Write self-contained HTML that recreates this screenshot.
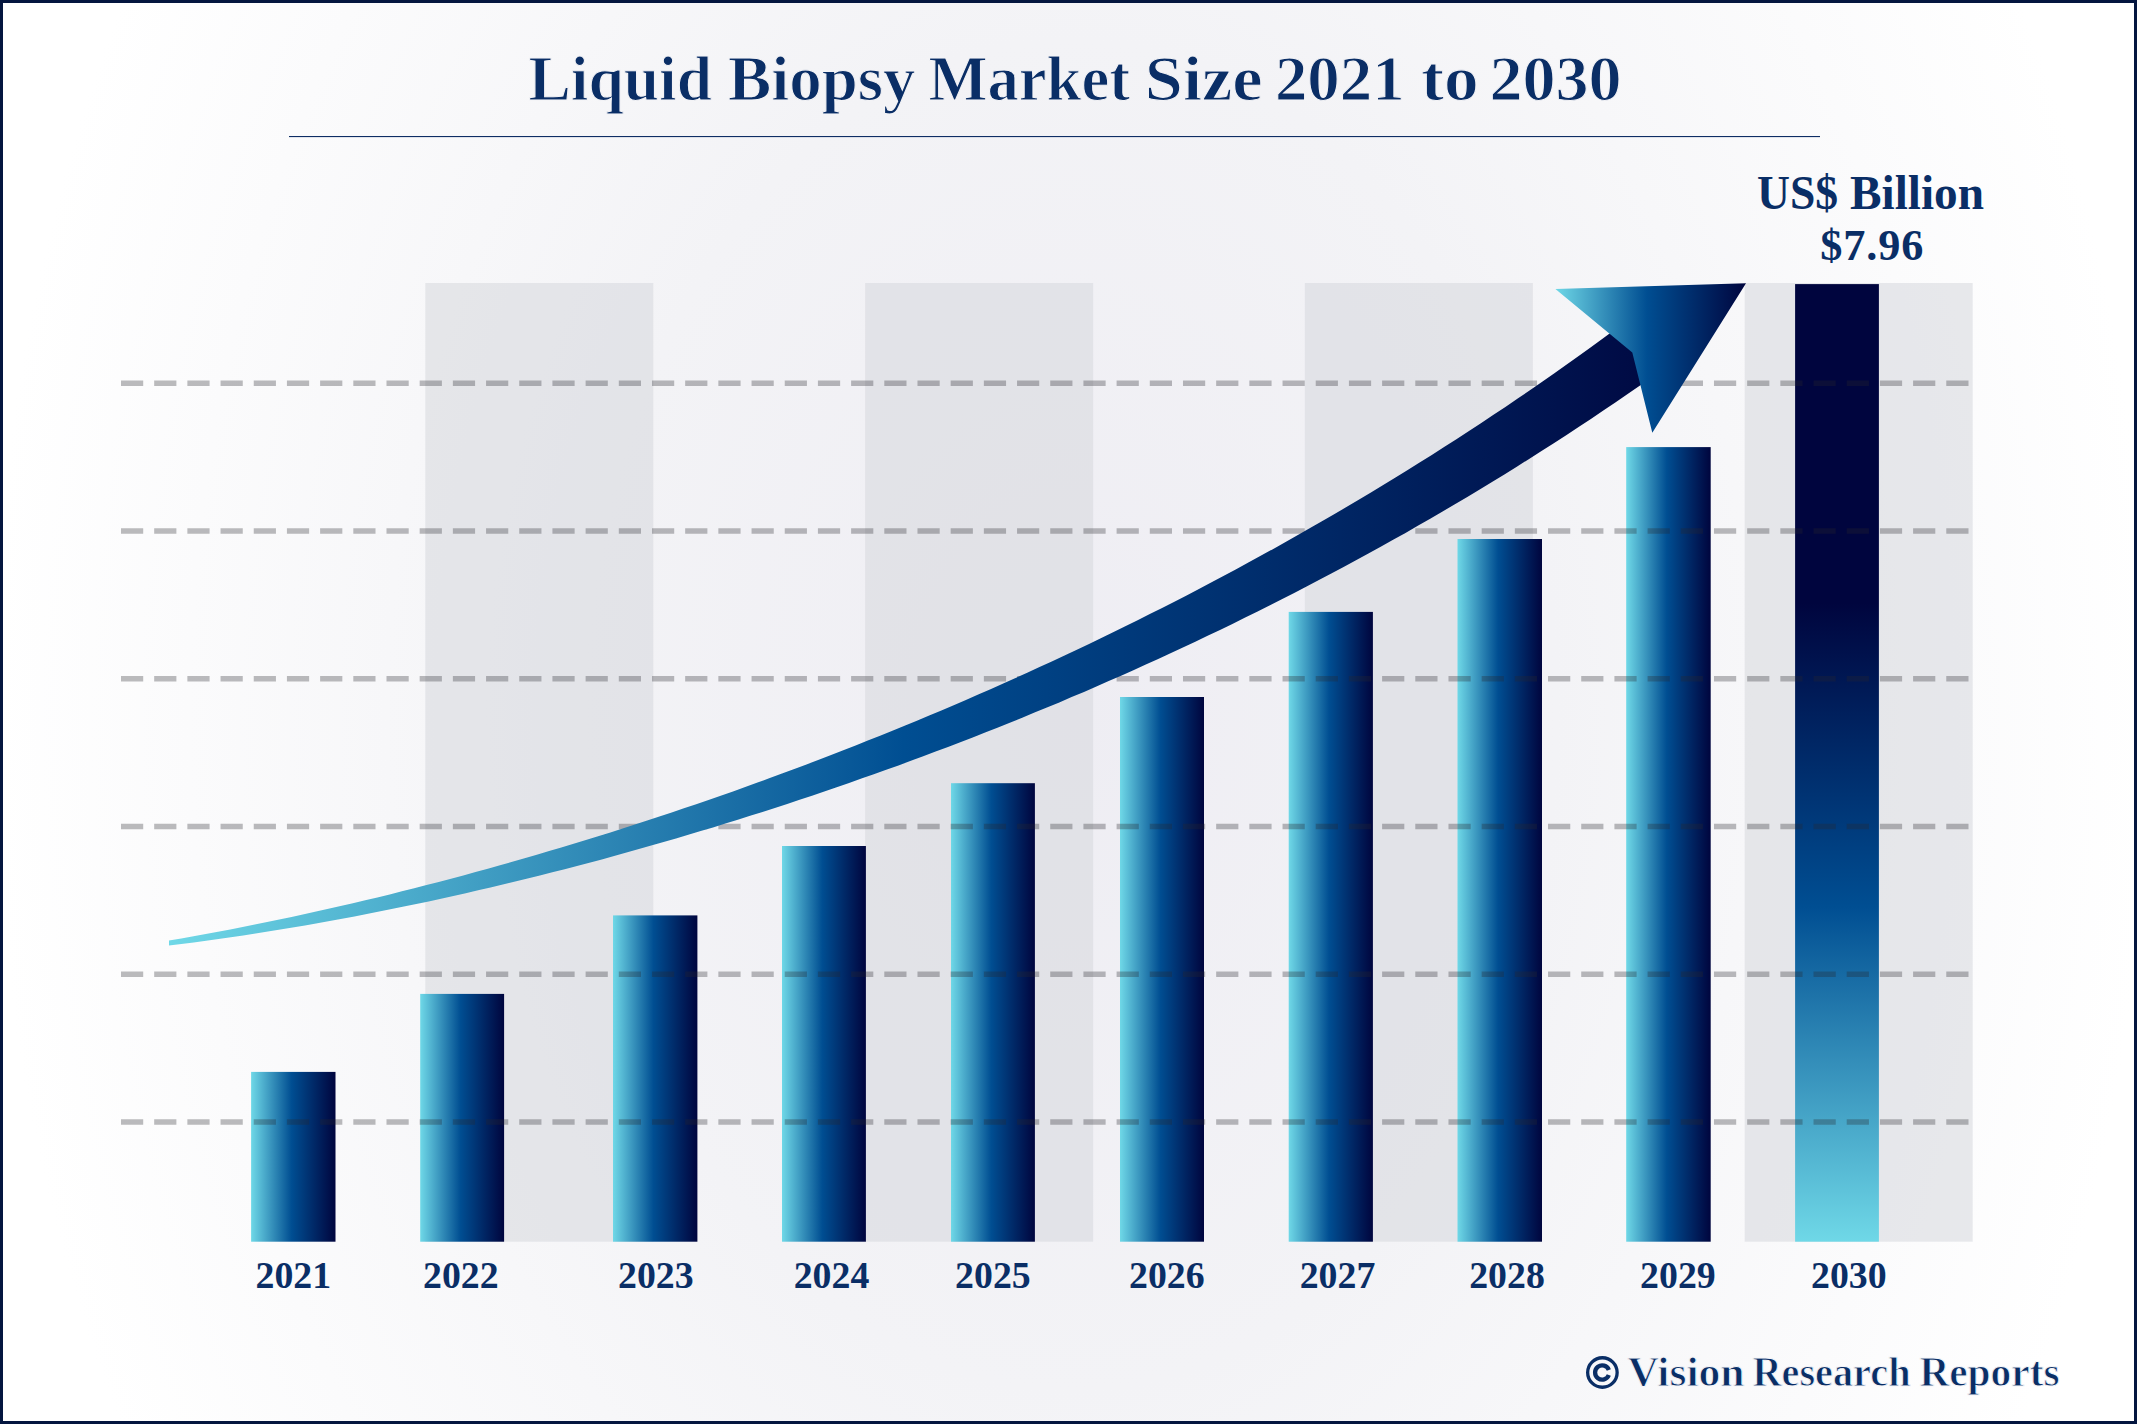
<!DOCTYPE html>
<html><head><meta charset="utf-8"><style>
html,body{margin:0;padding:0;width:2137px;height:1424px;background:#fff}
.frame{position:absolute;left:0;top:0;width:2137px;height:1424px;box-sizing:border-box;border:3px solid #04163f;
background:radial-gradient(ellipse 1080px 1500px at 1068px 712px,#eeedf3 0%,#f3f3f6 45%,#ffffff 100%)}
</style></head><body><div class="frame"></div>
<svg width="2137" height="1424" viewBox="0 0 2137 1424" style="position:absolute;left:0;top:0">
<defs>
<linearGradient id="gh" x1="0" y1="0" x2="1" y2="0"><stop offset="0" stop-color="#6fd8e7"/><stop offset="0.48" stop-color="#004e92"/><stop offset="1" stop-color="#00053e"/></linearGradient>
<linearGradient id="gv" x1="0" y1="1" x2="0" y2="0"><stop offset="0" stop-color="#6fd8e7"/><stop offset="0.35" stop-color="#004e92"/><stop offset="0.667" stop-color="#00053e"/><stop offset="1" stop-color="#00053e"/></linearGradient>
<linearGradient id="ga" gradientUnits="userSpaceOnUse" x1="169" y1="0" x2="1700" y2="0"><stop offset="0" stop-color="#6fd8e7"/><stop offset="0.48" stop-color="#004e92"/><stop offset="1" stop-color="#00053e"/></linearGradient>
<linearGradient id="ghd" gradientUnits="userSpaceOnUse" x1="1555.4" y1="0" x2="1746" y2="0"><stop offset="0" stop-color="#6fd8e7"/><stop offset="0.48" stop-color="#004e92"/><stop offset="1" stop-color="#00053e"/></linearGradient>
</defs>
<rect x="425.3" y="283" width="228" height="958.7" fill="rgba(215,217,221,0.57)"/>
<rect x="865.1" y="283" width="228" height="958.7" fill="rgba(215,217,221,0.57)"/>
<rect x="1304.9" y="283" width="228" height="958.7" fill="rgba(215,217,221,0.57)"/>
<rect x="1744.7" y="283" width="228" height="958.7" fill="rgba(215,217,221,0.57)"/>
<rect x="251.1" y="1071.9" width="84.4" height="169.8" fill="url(#gh)"/>
<rect x="420.2" y="993.9" width="83.9" height="247.8" fill="url(#gh)"/>
<rect x="613.0" y="915.4" width="84.4" height="326.3" fill="url(#gh)"/>
<rect x="782.0" y="846.0" width="83.9" height="395.7" fill="url(#gh)"/>
<rect x="951.0" y="783.2" width="83.9" height="458.5" fill="url(#gh)"/>
<rect x="1120.0" y="697.0" width="84.0" height="544.7" fill="url(#gh)"/>
<rect x="1288.7" y="611.9" width="84.2" height="629.8" fill="url(#gh)"/>
<rect x="1457.5" y="539.0" width="84.5" height="702.7" fill="url(#gh)"/>
<rect x="1626.2" y="447.1" width="84.5" height="794.6" fill="url(#gh)"/>
<rect x="1795.1" y="284.1" width="83.8" height="957.6" fill="url(#gv)"/>
<line x1="121" y1="383.2" x2="1969" y2="383.2" stroke="rgba(40,40,45,0.31)" stroke-width="5.6" stroke-dasharray="22.2 10.987"/>
<line x1="121" y1="531.0" x2="1969" y2="531.0" stroke="rgba(40,40,45,0.31)" stroke-width="5.6" stroke-dasharray="22.2 10.987"/>
<line x1="121" y1="678.7" x2="1969" y2="678.7" stroke="rgba(40,40,45,0.31)" stroke-width="5.6" stroke-dasharray="22.2 10.987"/>
<line x1="121" y1="826.5" x2="1969" y2="826.5" stroke="rgba(40,40,45,0.31)" stroke-width="5.6" stroke-dasharray="22.2 10.987"/>
<line x1="121" y1="974.2" x2="1969" y2="974.2" stroke="rgba(40,40,45,0.31)" stroke-width="5.6" stroke-dasharray="22.2 10.987"/>
<line x1="121" y1="1122.0" x2="1969" y2="1122.0" stroke="rgba(40,40,45,0.31)" stroke-width="5.6" stroke-dasharray="22.2 10.987"/>
<path d="M169.0,940.5 L181.3,938.4 L193.5,936.2 L205.8,934.0 L218.0,931.7 L230.3,929.4 L242.6,927.0 L254.8,924.5 L267.1,922.0 L279.3,919.5 L291.6,916.9 L303.9,914.3 L316.1,911.6 L328.4,908.8 L340.6,906.0 L352.9,903.2 L365.2,900.3 L377.4,897.4 L389.7,894.4 L401.9,891.3 L414.2,888.2 L426.5,885.1 L438.7,881.9 L451.0,878.7 L463.3,875.4 L475.5,872.1 L487.8,868.7 L500.0,865.3 L512.3,861.8 L524.6,858.3 L536.8,854.7 L549.1,851.1 L561.3,847.5 L573.6,843.8 L585.9,840.0 L598.1,836.2 L610.4,832.4 L622.6,828.5 L634.9,824.6 L647.2,820.6 L659.4,816.5 L671.7,812.5 L683.9,808.3 L696.2,804.2 L708.5,799.9 L720.7,795.7 L733.0,791.4 L745.2,787.0 L757.5,782.6 L769.8,778.1 L782.0,773.6 L794.3,769.0 L806.5,764.4 L818.8,759.8 L831.1,755.1 L843.3,750.3 L855.6,745.5 L867.8,740.6 L880.1,735.7 L892.4,730.8 L904.6,725.8 L916.9,720.7 L929.2,715.6 L941.4,710.4 L953.7,705.2 L965.9,699.9 L978.2,694.6 L990.5,689.2 L1002.7,683.8 L1015.0,678.3 L1027.2,672.7 L1039.5,667.1 L1051.8,661.5 L1064.0,655.8 L1076.3,650.0 L1088.5,644.2 L1100.8,638.3 L1113.1,632.3 L1125.3,626.3 L1137.6,620.3 L1149.8,614.1 L1162.1,607.9 L1174.4,601.7 L1186.6,595.4 L1198.9,589.0 L1211.1,582.6 L1223.4,576.0 L1235.7,569.5 L1247.9,562.8 L1260.2,556.1 L1272.4,549.4 L1284.7,542.5 L1297.0,535.6 L1309.2,528.6 L1321.5,521.6 L1333.7,514.5 L1346.0,507.3 L1358.3,500.0 L1370.5,492.7 L1382.8,485.3 L1395.1,477.8 L1407.3,470.2 L1419.6,462.6 L1431.8,454.9 L1444.1,447.1 L1456.4,439.2 L1468.6,431.2 L1480.9,423.2 L1493.1,415.1 L1505.4,406.9 L1517.7,398.6 L1529.9,390.2 L1542.2,381.7 L1554.4,373.2 L1566.7,364.5 L1579.0,355.8 L1591.2,347.0 L1603.5,338.1 L1615.7,329.1 L1628.0,320.0 L1640.0,318.0 L1647.0,352.0 L1645.0,382.0 L1640.4,385.2 L1628.0,393.8 L1615.7,402.2 L1603.3,410.6 L1590.9,418.9 L1578.6,427.1 L1566.2,435.2 L1553.8,443.2 L1541.5,451.1 L1529.1,458.9 L1516.8,466.7 L1504.4,474.4 L1492.0,482.0 L1479.7,489.5 L1467.3,496.9 L1454.9,504.2 L1442.6,511.5 L1430.2,518.7 L1417.8,525.8 L1405.5,532.9 L1393.1,539.8 L1380.7,546.7 L1368.4,553.5 L1356.0,560.3 L1343.6,566.9 L1331.3,573.5 L1318.9,580.1 L1306.6,586.5 L1294.2,592.9 L1281.8,599.3 L1269.5,605.5 L1257.1,611.7 L1244.7,617.8 L1232.4,623.9 L1220.0,629.9 L1207.6,635.8 L1195.3,641.7 L1182.9,647.5 L1170.5,653.3 L1158.2,659.0 L1145.8,664.6 L1133.4,670.2 L1121.1,675.7 L1108.7,681.1 L1096.4,686.5 L1084.0,691.9 L1071.6,697.1 L1059.3,702.4 L1046.9,707.5 L1034.5,712.6 L1022.2,717.7 L1009.8,722.7 L997.4,727.7 L985.1,732.5 L972.7,737.4 L960.3,742.2 L948.0,746.9 L935.6,751.6 L923.2,756.2 L910.9,760.8 L898.5,765.4 L886.2,769.8 L873.8,774.3 L861.4,778.6 L849.1,783.0 L836.7,787.3 L824.3,791.5 L812.0,795.7 L799.6,799.8 L787.2,803.9 L774.9,807.9 L762.5,811.9 L750.1,815.8 L737.8,819.7 L725.4,823.6 L713.0,827.4 L700.7,831.1 L688.3,834.8 L676.0,838.5 L663.6,842.1 L651.2,845.6 L638.9,849.1 L626.5,852.6 L614.1,856.0 L601.8,859.4 L589.4,862.7 L577.0,865.9 L564.7,869.2 L552.3,872.3 L539.9,875.5 L527.6,878.5 L515.2,881.6 L502.8,884.5 L490.5,887.5 L478.1,890.3 L465.8,893.2 L453.4,895.9 L441.0,898.7 L428.7,901.4 L416.3,904.0 L403.9,906.6 L391.6,909.1 L379.2,911.6 L366.8,914.0 L354.5,916.4 L342.1,918.7 L329.7,921.0 L317.4,923.2 L305.0,925.4 L292.6,927.5 L280.3,929.5 L267.9,931.5 L255.6,933.5 L243.2,935.4 L230.8,937.2 L218.5,939.0 L206.1,940.7 L193.7,942.4 L181.4,944.0 L169.0,945.6 Z" fill="url(#ga)"/>
<path d="M1555.4,289 L1746,283.3 L1652.3,432.8 L1632.3,352.6 Z" fill="url(#ghd)"/>
<rect x="289" y="136" width="1531" height="1.1" fill="#0e2d64"/>
<text x="528.50" y="100" font-family="'Liberation Serif', serif" font-weight="bold" font-size="64" fill="#0a2e66" stroke="#f3f3f6" stroke-width="1.1" textLength="183.49" lengthAdjust="spacingAndGlyphs">Liquid</text>
<text x="728.00" y="100" font-family="'Liberation Serif', serif" font-weight="bold" font-size="64" fill="#0a2e66" stroke="#f3f3f6" stroke-width="1.1" textLength="187.49" lengthAdjust="spacingAndGlyphs">Biopsy</text>
<text x="928.51" y="100" font-family="'Liberation Serif', serif" font-weight="bold" font-size="64" fill="#0a2e66" stroke="#f3f3f6" stroke-width="1.1" textLength="201.48" lengthAdjust="spacingAndGlyphs">Market</text>
<text x="1144.87" y="100" font-family="'Liberation Serif', serif" font-weight="bold" font-size="64" fill="#0a2e66" stroke="#f3f3f6" stroke-width="1.1" textLength="117.72" lengthAdjust="spacingAndGlyphs">Size</text>
<text x="1274.93" y="100" font-family="'Liberation Serif', serif" font-weight="bold" font-size="64" fill="#0a2e66" stroke="#f3f3f6" stroke-width="1.1" textLength="129.65" lengthAdjust="spacingAndGlyphs">2021</text>
<text x="1420.94" y="100" font-family="'Liberation Serif', serif" font-weight="bold" font-size="64" fill="#0a2e66" stroke="#f3f3f6" stroke-width="1.1" textLength="57.67" lengthAdjust="spacingAndGlyphs">to</text>
<text x="1489.43" y="100" font-family="'Liberation Serif', serif" font-weight="bold" font-size="64" fill="#0a2e66" stroke="#f3f3f6" stroke-width="1.1" textLength="132.13" lengthAdjust="spacingAndGlyphs">2030</text>
<text x="1756.97" y="208.6" font-family="'Liberation Serif', serif" font-weight="bold" font-size="47.6" fill="#0a2e66"  textLength="81.05" lengthAdjust="spacingAndGlyphs">US$</text>
<text x="1850.00" y="208.6" font-family="'Liberation Serif', serif" font-weight="bold" font-size="47.6" fill="#0a2e66"  textLength="134.00" lengthAdjust="spacingAndGlyphs">Billion</text>
<text x="1871.8" y="260.1" text-anchor="middle" font-family="'Liberation Serif', serif" font-weight="bold" font-size="44.3" fill="#0a2e66" textLength="103" lengthAdjust="spacing">$7.96</text>
<text x="293.3" y="1288" text-anchor="middle" font-family="'Liberation Serif', serif" font-weight="bold" font-size="37.8" fill="#0a2e66">2021</text>
<text x="460.8" y="1288" text-anchor="middle" font-family="'Liberation Serif', serif" font-weight="bold" font-size="37.8" fill="#0a2e66">2022</text>
<text x="655.8" y="1288" text-anchor="middle" font-family="'Liberation Serif', serif" font-weight="bold" font-size="37.8" fill="#0a2e66">2023</text>
<text x="831.5" y="1288" text-anchor="middle" font-family="'Liberation Serif', serif" font-weight="bold" font-size="37.8" fill="#0a2e66">2024</text>
<text x="992.9" y="1288" text-anchor="middle" font-family="'Liberation Serif', serif" font-weight="bold" font-size="37.8" fill="#0a2e66">2025</text>
<text x="1166.8" y="1288" text-anchor="middle" font-family="'Liberation Serif', serif" font-weight="bold" font-size="37.8" fill="#0a2e66">2026</text>
<text x="1337.5" y="1288" text-anchor="middle" font-family="'Liberation Serif', serif" font-weight="bold" font-size="37.8" fill="#0a2e66">2027</text>
<text x="1507" y="1288" text-anchor="middle" font-family="'Liberation Serif', serif" font-weight="bold" font-size="37.8" fill="#0a2e66">2028</text>
<text x="1677.9" y="1288" text-anchor="middle" font-family="'Liberation Serif', serif" font-weight="bold" font-size="37.8" fill="#0a2e66">2029</text>
<text x="1848.8" y="1288" text-anchor="middle" font-family="'Liberation Serif', serif" font-weight="bold" font-size="37.8" fill="#0a2e66">2030</text>
<circle cx="1602.4" cy="1372.5" r="14.75" fill="none" stroke="#0a2e66" stroke-width="3.3"/>
<path d="M1608.83,1369.96 A7.1,7.1 0 1 0 1608.83,1375.04" fill="none" stroke="#0a2e66" stroke-width="4.3"/>
<text x="1627.41" y="1385.6" font-family="'Liberation Serif', serif" font-weight="bold" font-size="41.8" fill="#0a2e66" stroke="#f5f5f8" stroke-width="0.9" textLength="117.18" lengthAdjust="spacingAndGlyphs">Vision</text>
<text x="1752.40" y="1385.6" font-family="'Liberation Serif', serif" font-weight="bold" font-size="41.8" fill="#0a2e66" stroke="#f5f5f8" stroke-width="0.9" textLength="158.16" lengthAdjust="spacingAndGlyphs">Research</text>
<text x="1919.41" y="1385.6" font-family="'Liberation Serif', serif" font-weight="bold" font-size="41.8" fill="#0a2e66" stroke="#f5f5f8" stroke-width="0.9" textLength="140.12" lengthAdjust="spacingAndGlyphs">Reports</text>
</svg>
</body></html>
